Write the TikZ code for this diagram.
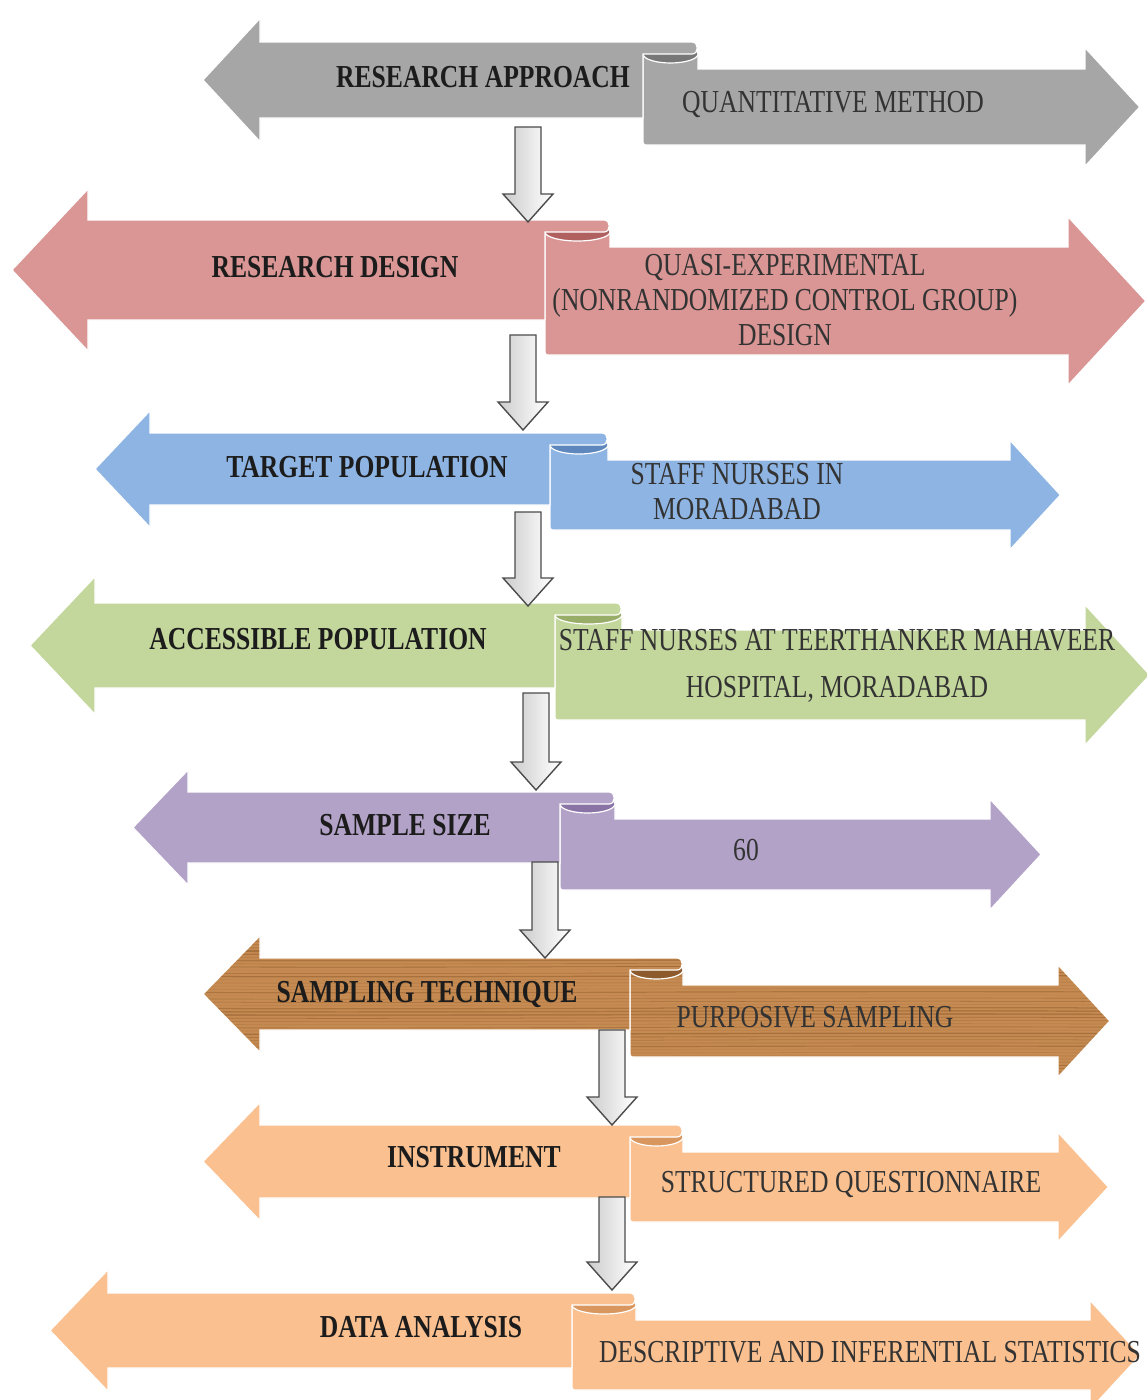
\documentclass[tikz,border=0pt]{standalone}
\usepackage{fontspec}
\setmainfont{Liberation Serif}
\usepackage{graphicx}
\definecolor{cA}{HTML}{A6A6A6}\definecolor{cAd}{HTML}{777777}
\definecolor{cB}{HTML}{D99694}\definecolor{cBd}{HTML}{B0615F}
\definecolor{cC}{HTML}{8EB4E3}\definecolor{cCd}{HTML}{5D87BD}
\definecolor{cD}{HTML}{C3D69B}\definecolor{cDd}{HTML}{97AD68}
\definecolor{cE}{HTML}{B3A2C7}\definecolor{cEd}{HTML}{8A74A6}
\definecolor{cF}{HTML}{C68B52}\definecolor{cFd}{HTML}{8C5A2C}\definecolor{grain}{HTML}{7A4A1E}
\definecolor{cG}{HTML}{FAC090}\definecolor{cGd}{HTML}{D9975F}
\definecolor{ink}{HTML}{1C1C1C}
\newcommand\lab[1]{\scalebox{0.8}[1]{\begin{tabular}{@{}c@{}}#1\end{tabular}}}
\newcommand\ribbonrow[9]{%
 \pgfmathsetmacro\hL{#5-#4}%
 \pgfmathsetmacro\mL{(#4+#5)/2}%
 \pgfmathsetmacro\eL{0.31*\hL}%
 \pgfmathsetmacro\hTop{#4-\eL}%
 \pgfmathsetmacro\hBot{#5+\eL}%
 \pgfmathsetmacro\bandY{#4+12}%
 \pgfmathsetmacro\Tt{#4+27}%
 \pgfmathsetmacro\hR{#8-\Tt}%
 \pgfmathsetmacro\mR{(\Tt+#8)/2}%
 \pgfmathsetmacro\eR{0.28*\hR}%
 \pgfmathsetmacro\rTop{\Tt-\eR}%
 \pgfmathsetmacro\rBot{#8+\eR}%
 \pgfmathsetmacro\rTip{#9+0.72*\hR}%
 \pgfmathsetmacro\cX{(#6+#7)/2}%
 \pgfmathsetmacro\rX{(#7-#6)/2}%
 \pgfmathsetmacro\xeA{#7-6}%
 \pgfmathsetmacro\xeB{#7+1}%
 \pgfmathsetmacro\bl{#8-6}%
 \pgfmathsetmacro\blx{#6+6}%
 \path[#1,rim] (#6,\bandY) -- (#6,\bl) .. controls (#6,#8) .. (\blx,#8) -- (#9,#8) -- (#9,\rBot) -- (\rTip,\mR) -- (#9,\rTop) -- (#9,\Tt) -- (#7,\Tt) -- (#7,\bandY) -- cycle;
 \path[#1d,rim] (\cX,\bandY) ellipse [x radius=\rX, y radius=9];
 \path[#1,rim] (#2,\mL) -- (#3,\hTop) -- (#3,#4) -- (\xeA,#4) .. controls (\xeB,#4) and (\xeB,\bandY) .. (\xeA,\bandY) -- (#6,\bandY) -- (#6,#5) -- (#3,#5) -- (#3,\hBot) -- cycle;
}
\newcommand\dnarrow[3]{%
 \pgfmathsetmacro\hb{#3-28}%
 \path[darr] (#1-13,#2) -- (#1+13,#2) -- (#1+13,\hb) -- (#1+25,\hb) -- (#1,#3) -- (#1-25,\hb) -- (#1-13,\hb) -- cycle;
}
\tikzset{
 rA/.style={fill=cA}, rAd/.style={fill=cAd},
 rB/.style={fill=cB}, rBd/.style={fill=cBd},
 rC/.style={fill=cC}, rCd/.style={fill=cCd},
 rD/.style={fill=cD}, rDd/.style={fill=cDd},
 rE/.style={fill=cE}, rEd/.style={fill=cEd},
 rF/.style={fill=cF, path picture={
   \pgfmathsetseed{11}
   \foreach \k in {0,...,48}{
     \pgfmathsetmacro\yy{925+\k*3.2}
     \pgfmathsetmacro\op{0.08+0.4*rnd}
     \pgfmathsetmacro\lw{0.4+1.6*rnd}
     \draw[grain, opacity=\op, line width=\lw pt] (150,\yy) .. controls (450,\yy+2) and (800,\yy-2) .. (1150,\yy);
   }}},
 rFd/.style={fill=cFd},
 rG/.style={fill=cG}, rGd/.style={fill=cGd},
 rim/.style={draw=white, line width=1.2pt},
 darr/.style={draw=black!70, line width=1.4pt, left color=gray!40, right color=white},
 boldlab/.style={font=\fontsize{32}{35}\selectfont\bfseries, text=ink, inner sep=0pt},
 plainlab/.style={font=\fontsize{32}{35}\selectfont, text=ink!90, inner sep=0pt},
}
\begin{document}
\begin{tikzpicture}[x=1pt,y=-1pt]
\useasboundingbox (0,0) rectangle (1147,1400);
\fill[white] (0,0) rectangle (1147,1400);
% rows: style, ltip, lhead, T, B, xc, xe, B2, rhead
\ribbonrow{rA}{203}{260}{42}{118}{643}{698}{145}{1085}
\ribbonrow{rB}{12}{88}{220}{320}{545}{610}{355}{1068}
\ribbonrow{rC}{95}{150}{433}{505}{550}{608}{530}{1010}
\ribbonrow{rD}{30}{95}{603}{688}{555}{622}{720}{1085}
\ribbonrow{rE}{133}{188}{792}{863}{560}{615}{890}{990}
\ribbonrow{rF}{203}{260}{958}{1030}{630}{683}{1057}{1058}
\ribbonrow{rG}{203}{260}{1125}{1198}{630}{683}{1222}{1058}
\ribbonrow{rG}{50}{108}{1293}{1368}{572}{636}{1390}{1090}
% down arrows
\dnarrow{528}{127}{222}
\dnarrow{523}{335}{430}
\dnarrow{528}{512}{606}
\dnarrow{536}{693}{790}
\dnarrow{545}{862}{958}
\dnarrow{612}{1030}{1125}
\dnarrow{612}{1197}{1290}
% labels
\node[boldlab] (l1) at (483,80) {\lab{RESEARCH APPROACH}};
\node[plainlab] (r1) at (833,105) {\lab{QUANTITATIVE METHOD}};
\node[boldlab] (l2) at (335,270) {\lab{RESEARCH DESIGN}};
\node[plainlab] (r2) at (785,303) {\lab{QUASI-EXPERIMENTAL\\(NONRANDOMIZED CONTROL GROUP)\\DESIGN}};
\node[boldlab] (l3) at (367,470) {\lab{TARGET POPULATION}};
\node[plainlab] (r3) at (737,495) {\lab{STAFF NURSES IN\\MORADABAD}};
\node[boldlab] (l4) at (318,642) {\lab{ACCESSIBLE POPULATION}};
\node[plainlab] (r4) at (837,667) {\lab{STAFF NURSES AT TEERTHANKER MAHAVEER\\[12pt]HOSPITAL, MORADABAD}};
\node[boldlab] (l5) at (405,828) {\lab{SAMPLE SIZE}};
\node[plainlab] (r5) at (746,853) {\lab{60}};
\node[boldlab] (l6) at (427,995) {\lab{SAMPLING TECHNIQUE}};
\node[plainlab] (r6) at (815,1020) {\lab{PURPOSIVE SAMPLING}};
\node[boldlab] (l7) at (474,1160) {\lab{INSTRUMENT}};
\node[plainlab] (r7) at (851,1185) {\lab{STRUCTURED QUESTIONNAIRE}};
\node[boldlab] (l8) at (421,1330) {\lab{DATA ANALYSIS}};
\node[plainlab] (r8) at (870,1355) {\lab{DESCRIPTIVE AND INFERENTIAL STATISTICS}};
\end{tikzpicture}
\end{document}
